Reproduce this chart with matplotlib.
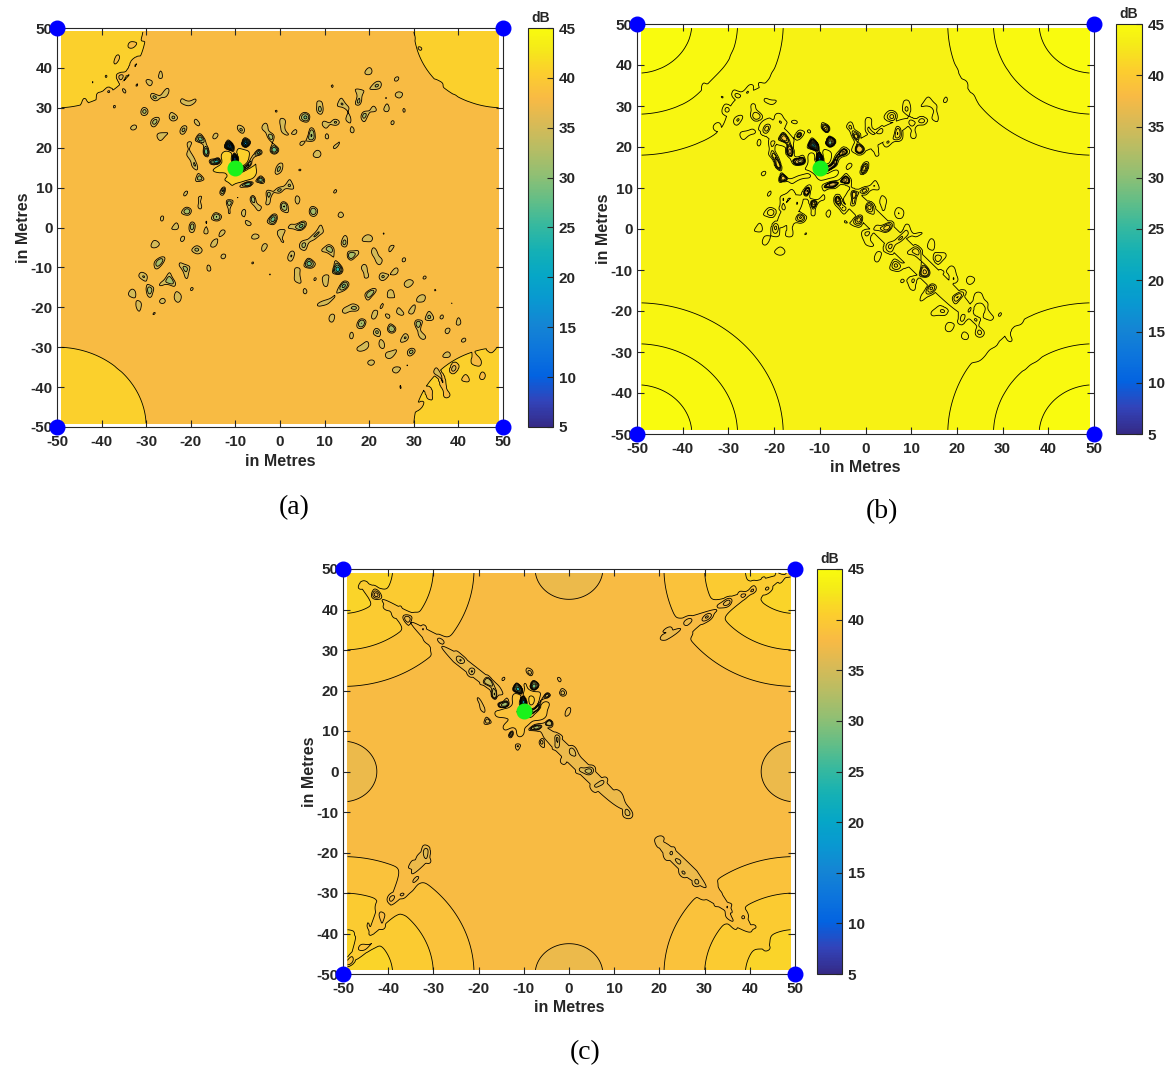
'''
    Received power maps for three anchor setups, (a) (b) (c)
'''
import numpy as np
import matplotlib.pyplot as plt
from matplotlib.colors import LinearSegmentedColormap, Normalize
from matplotlib.cm import ScalarMappable

plt.rcParams['font.family'] = ['Liberation Sans', 'DejaVu Sans']
plt.rcParams['font.weight'] = 'bold'
plt.rcParams['axes.unicode_minus'] = False

# parula-like colour map (sampled)
PARULA = [(0.2081, 0.1663, 0.5292), (0.1959, 0.2645, 0.7279), (0.0117, 0.3875, 0.8820),
          (0.0498, 0.4586, 0.8641), (0.0793, 0.5200, 0.8312), (0.0343, 0.5966, 0.8199),
          (0.0228, 0.6535, 0.7768), (0.0843, 0.6928, 0.7062), (0.2178, 0.7250, 0.6193),
          (0.3953, 0.7459, 0.5244), (0.5709, 0.7485, 0.4494), (0.7184, 0.7411, 0.3905),
          (0.8507, 0.7299, 0.3360), (0.9739, 0.7314, 0.2666), (0.9880, 0.8066, 0.1794),
          (0.9598, 0.9218, 0.0948), (0.9763, 0.9831, 0.0538)]
PARULA_POS = [0, 4, 8, 12, 16, 20, 24, 28, 32, 36, 40, 44, 48, 52, 56, 60, 63]
cmap = LinearSegmentedColormap.from_list('parula', [(p / 63, c) for p, c in zip(PARULA_POS, PARULA)])
norm = Normalize(5, 45)

# anchors (corners) and the target position
ANCHOR_X = [-50, 50, -50, 50]
ANCHOR_Y = [50, 50, -50, -50]
TX_X, TX_Y = -10, 15

# multipath terms giving the fading pattern
WAVE_KX = [1.31, -0.57, 0.93, -1.27, 0.21, 1.08, -0.88, 1.74, -1.52, 0.47, 2.03, -1.96]
WAVE_KY = [0.42, 1.19, -1.02, -0.61, 1.37, 0.88, 0.97, -0.66, 1.21, -1.83, 0.35, -0.71]
WAVE_PHASE = [0.3, 1.7, 2.9, 4.1, 5.3, 0.9, 2.2, 3.6, 1.1, 4.8, 2.6, 5.9]

# per panel settings
PANELS = ['(a)', '(b)', '(c)']
FAR_DB = [38.0, 43.75, 38.0]
CORNER_GAIN = [4.5, 1.85, 3.72]
CORNER_RANGE = [30.0, 37.0, 33.5]
TX_BUMP = [3.0, 0.6, 1.5]
NULL_DEPTH = [30.0, 30.0, 20.0]
BAND_BASE = [0.0, 0.3, 1.0]
FADE_DEPTH = [4.5, 0.8, 1.2]
FADE_THRESH = [0.55, 0.2, 0.3]
LEVELS = [
    [6, 10, 14, 18, 22, 26, 30, 33.5, 36.5, 39.5, 42],
    [6, 10, 14, 18, 22, 26, 30, 34, 38, 41, 42, 42.5, 43, 43.5, 44, 44.5, 45, 46],
    [6, 10, 14, 18, 22, 26, 30, 33, 35.5, 36.5, 37.5, 38.5, 39.5, 40.5, 41.5],
]
# fading bands: anchor index, start and end distance from target, half width
BAND_ANCHOR = [[0, 1, 2, 3], [0, 1, 2, 3], [0, 1, 2, 3, 3]]
BAND_T0 = [[0, 0, 0, 0], [0, 0, 0, 0], [0, 35, 40, 0, 44]]
BAND_T1 = [[36, 42, 40, 72], [26, 28, 22, 54], [50, 72, 76, 33, 76]]
BAND_W = [[7, 6, 7, 10], [5, 4, 4.5, 5], [1.4, 1.5, 1.8, 1.8, 1.6]]
# weaker zones at the edge midpoints (panel c only)
EDGE_X = [0, 0, -50, 50]
EDGE_Y = [50, -50, 0, 0]
EDGE_DIP = [0.0, 0.0, 1.2]

# figure layout in pixels of the 1168x1070 page
AX_BOX = [(57, 28, 446, 399), (637, 24, 457, 410), (343, 569, 452, 405)]
CB_BOX = [(528, 28, 25, 399), (1116, 24, 26, 410), (817, 569, 25, 405)]
CAPTION_XY = [(294, 508), (882, 512), (585, 1053)]

W, H = 1168, 1070
fig = plt.figure(figsize=(W / 100, H / 100), dpi=100)

x = np.linspace(-49, 49, 393)
X, Y = np.meshgrid(x, x)

ripple = sum(np.cos(kx * X + ky * Y + ph) for kx, ky, ph in zip(WAVE_KX, WAVE_KY, WAVE_PHASE))
ripple = ripple / np.sqrt(len(WAVE_KX) / 2)

d_corner = np.min([np.hypot(X - ax_, Y - ay_) for ax_, ay_ in zip(ANCHOR_X, ANCHOR_Y)], axis=0)
d_edge = np.min([np.hypot(X - ex, Y - ey) for ex, ey in zip(EDGE_X, EDGE_Y)], axis=0)
r_tx = np.hypot(X - TX_X, Y - TX_Y)


def sig(v):
    return 1 / (1 + np.exp(-v))


for i, name in enumerate(PANELS):
    Z = FAR_DB[i] + CORNER_GAIN[i] * np.clip(1 - d_corner / CORNER_RANGE[i], 0, None)
    Z = Z - EDGE_DIP[i] * np.exp(-(d_edge / 8) ** 2)
    Z = Z + TX_BUMP[i] * np.exp(-(r_tx / 5) ** 2) * (1 - 0.4 * ripple)

    # fading bands along the lines target -> anchor
    env = np.zeros_like(Z)
    for a, t0, t1, w in zip(BAND_ANCHOR[i], BAND_T0[i], BAND_T1[i], BAND_W[i]):
        ux, uy = ANCHOR_X[a] - TX_X, ANCHOR_Y[a] - TX_Y
        n = np.hypot(ux, uy)
        ux, uy = ux / n, uy / n
        t = (X - TX_X) * ux + (Y - TX_Y) * uy
        p = np.abs((X - TX_X) * uy - (Y - TX_Y) * ux)
        e = np.exp(-(p / w) ** 2) * sig((t - t0) / 1.5) * sig((t1 - t) / 3)
        env = np.maximum(env, e)
    Z = Z - env * (BAND_BASE[i] + FADE_DEPTH[i] * np.clip(ripple - FADE_THRESH[i], 0, None))
    Z = Z - NULL_DEPTH[i] * np.exp(-(r_tx / 6) ** 2) * np.clip(ripple - 1.0, 0, None)

    lev = LEVELS[i]
    Z = np.clip(Z, lev[0] + 0.01, lev[-1] - 0.01)

    l, t_, w_, h_ = AX_BOX[i]
    ax = fig.add_axes([l / W, 1 - (t_ + h_) / H, w_ / W, h_ / H])
    ax.contourf(X, Y, Z, levels=lev, cmap=cmap, norm=norm)
    ax.contour(X, Y, Z, levels=lev, colors='k', linewidths=0.6)

    ax.plot(ANCHOR_X, ANCHOR_Y, 'o', color=(0, 0, 1), ms=10.5, clip_on=False, zorder=5)
    ax.plot(TX_X, TX_Y, 'o', color=(0.1, 0.95, 0.1), ms=10.5, zorder=5)

    ax.set_xlim(-50, 50)
    ax.set_ylim(-50, 50)
    ax.set_xticks(range(-50, 51, 10))
    ax.set_yticks(range(-50, 51, 10))
    ax.tick_params(direction='in', top=True, right=True, length=5, width=0.8,
                   labelsize=11, colors='0.15', pad=3)
    ax.tick_params(axis='x', pad=6)
    for s in ax.spines.values():
        s.set_color('0.15')
        s.set_linewidth(0.8)
    ax.set_xlabel('in Metres', fontsize=11.5, fontweight='bold', color='0.15', labelpad=3)
    ax.set_ylabel('in Metres', fontsize=11.5, fontweight='bold', color='0.15', labelpad=0)

    # colour bar
    l, t_, w_, h_ = CB_BOX[i]
    cax = fig.add_axes([l / W, 1 - (t_ + h_) / H, w_ / W, h_ / H])
    cb = fig.colorbar(ScalarMappable(norm=norm, cmap=cmap), cax=cax, ticks=range(5, 46, 5))
    cb.outline.set_edgecolor('0.15')
    cb.outline.set_linewidth(0.8)
    cax.tick_params(direction='in', length=4, width=0.8, labelsize=11, colors='0.15', pad=4)
    cax.set_title('dB', fontsize=10, fontweight='bold', color='0.15', pad=4)

    cx, cy = CAPTION_XY[i]
    fig.text(cx / W, 1 - cy / H, name, family=['Liberation Serif', 'DejaVu Serif'],
             fontweight='normal', fontsize=20, ha='center', va='center')

fig.savefig('out.png', dpi=100)
